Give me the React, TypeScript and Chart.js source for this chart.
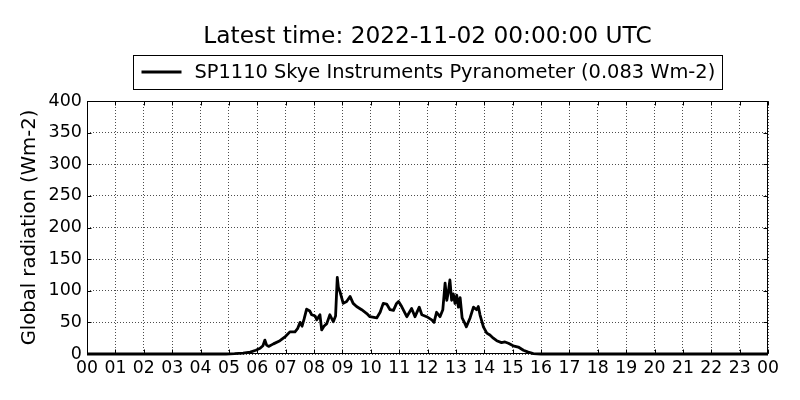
import { useEffect, useRef } from "react";
import { Chart, registerables } from "chart.js";

Chart.register(...registerables);

const titleText = "Latest time: 2022-11-02 00:00:00 UTC";
const seriesLabel = "SP1110 Skye Instruments Pyranometer (0.083 Wm-2)";
const yAxisTitle = "Global radiation (Wm-2)";

const hours = [
  0, 4.9, 5.2, 5.5, 5.75, 5.95, 6.1, 6.2, 6.27, 6.33, 6.4, 6.57, 6.8, 7.0, 7.15,
  7.33, 7.42, 7.51, 7.58, 7.65, 7.74, 7.85, 7.92, 8.04, 8.1, 8.21, 8.27, 8.35,
  8.45, 8.56, 8.68, 8.76, 8.82, 8.86, 8.92, 9.03, 9.15, 9.27, 9.38, 9.5, 9.68,
  9.86, 9.97, 10.21, 10.33, 10.44, 10.56, 10.68, 10.8, 10.91, 10.98, 11.09,
  11.27, 11.44, 11.56, 11.71, 11.8, 11.97, 12.15, 12.23, 12.32, 12.44, 12.54,
  12.62, 12.68, 12.73, 12.79, 12.85, 12.91, 12.97, 13.03, 13.09, 13.15, 13.22,
  13.32, 13.37, 13.5, 13.62, 13.73, 13.79, 13.85, 13.97, 14.09, 14.2, 14.32,
  14.44, 14.61, 14.73, 14.85, 15.02, 15.2, 15.38, 15.55, 15.73, 16, 24,
];

const radiation = [
  0, 0, 0.5, 1.5, 3, 6, 9, 13, 22, 14, 12, 16, 21, 28, 35, 35, 40, 50, 44, 55,
  71, 68, 62, 60, 54, 62, 38, 44, 48, 62, 51, 60, 121, 105, 98, 80, 83, 91, 80,
  75, 70, 64, 59, 57, 66, 80, 79, 70, 69, 80, 83, 75, 59, 72, 59, 74, 62, 59,
  54, 50, 66, 59, 70, 112, 85, 97, 117, 85, 95, 80, 93, 74, 89, 57, 48, 43, 57,
  74, 70, 75, 62, 43, 33, 30, 25, 21, 18, 19, 17, 13, 11, 6, 3, 0.5, 0, 0,
];

const xTickHours = [
  0, 1, 2, 3, 4, 5, 6, 7, 8, 9, 10, 11, 12, 13, 14, 15, 16, 17, 18, 19, 20, 21,
  22, 23, 24,
];
const xTickLabels = [
  "00", "01", "02", "03", "04", "05", "06", "07", "08", "09", "10", "11", "12",
  "13", "14", "15", "16", "17", "18", "19", "20", "21", "22", "23", "00",
];
const yTicks = [0, 50, 100, 150, 200, 250, 300, 350, 400];

const FONT = "'DejaVu Sans', sans-serif";

const decorPlugin = {
  id: "decor",
  beforeDatasetsDraw(chart: any) {
    const { ctx, chartArea: a, scales } = chart;
    ctx.save();
    ctx.strokeStyle = "#000";
    ctx.lineWidth = 1;
    const l = Math.round(a.left) + 0.5;
    const t = Math.round(a.top) + 0.5;
    const r = Math.round(a.right) - 0.5;
    const b = Math.round(a.bottom) - 0.5;
    ctx.strokeRect(l, t, r - l, b - t);
    ctx.beginPath();
    for (const v of xTickHours) {
      const px = Math.round(scales.x.getPixelForValue(v)) + 0.5;
      ctx.moveTo(px, b);
      ctx.lineTo(px, b - 4);
      ctx.moveTo(px, t);
      ctx.lineTo(px, t + 4);
    }
    for (const v of yTicks) {
      const py = Math.round(scales.y.getPixelForValue(v)) + 0.5;
      ctx.moveTo(l, py);
      ctx.lineTo(l + 4, py);
      ctx.moveTo(r, py);
      ctx.lineTo(r - 4, py);
    }
    ctx.stroke();
    ctx.restore();
  },
  afterDraw(chart: any) {
    const { ctx, chartArea: a } = chart;
    const cx = (a.left + a.right) / 2;
    ctx.save();
    ctx.fillStyle = "#000";
    // title
    ctx.font = `23.3px ${FONT}`;
    ctx.textAlign = "center";
    ctx.textBaseline = "alphabetic";
    ctx.fillText(titleText, cx, 43);
    // legend
    ctx.font = `19.4px ${FONT}`;
    const tw = ctx.measureText(seriesLabel).width;
    const boxW = tw + 68;
    const bl = Math.round(cx - boxW / 2) + 0.5;
    const bt = 55.5;
    const bh = 34;
    ctx.strokeStyle = "#000";
    ctx.lineWidth = 1;
    ctx.strokeRect(bl, bt, Math.round(boxW), bh);
    ctx.lineWidth = 2.8;
    ctx.beginPath();
    ctx.moveTo(bl + 8, 72);
    ctx.lineTo(bl + 48, 72);
    ctx.stroke();
    ctx.textAlign = "left";
    ctx.textBaseline = "middle";
    ctx.fillText(seriesLabel, bl + 61, 73);
    ctx.restore();
  },
};

export default function App() {
  const ref = useRef<HTMLCanvasElement | null>(null);

  useEffect(() => {
    document.body.style.margin = "0";
    if (!ref.current) return;
    const data = hours.map((h, i) => ({ x: h, y: radiation[i] }));
    const chart = new Chart(ref.current, {
      type: "line",
      data: {
        datasets: [
          {
            label: seriesLabel,
            data,
            borderColor: "#000",
            backgroundColor: "#000",
            borderWidth: 2.8,
            borderJoinStyle: "round",
            pointRadius: 0,
            tension: 0,
            clip: false as any,
          },
        ],
      },
      options: {
        responsive: false,
        animation: false,
        devicePixelRatio: 1,
        layout: { padding: { top: 101, right: 32, left: 0, bottom: 0 } },
        plugins: {
          legend: { display: false },
          title: { display: false },
          tooltip: { enabled: false },
        },
        scales: {
          x: {
            type: "linear",
            min: 0,
            max: 24,
            afterBuildTicks: (scale: any) => {
              scale.ticks = xTickHours.map((v) => ({ value: v }));
            },
            afterFit: (scale: any) => {
              scale.height = 46;
            },
            ticks: {
              autoSkip: false,
              maxRotation: 0,
              minRotation: 0,
              padding: 4,
              color: "#000",
              font: { family: FONT, size: 17.3 },
              callback: (v: any) => xTickLabels[xTickHours.indexOf(Number(v))] ?? "",
            },
            grid: {
              color: "#000",
              lineWidth: 0.7,
              drawTicks: false,
            },
            border: { display: false, dash: [1, 2] },
          },
          y: {
            type: "linear",
            min: 0,
            max: 400,
            afterBuildTicks: (scale: any) => {
              scale.ticks = yTicks.map((v) => ({ value: v }));
            },
            afterFit: (scale: any) => {
              scale.width = 87;
            },
            ticks: {
              padding: 5,
              color: "#000",
              font: { family: FONT, size: 17.5 },
            },
            grid: {
              color: "#000",
              lineWidth: 0.7,
              drawTicks: false,
            },
            border: { display: false, dash: [1, 2] },
            title: {
              display: true,
              text: yAxisTitle,
              color: "#000",
              font: { family: FONT, size: 19.6 },
              padding: { top: 18, bottom: 0 },
            },
          },
        },
      },
      plugins: [decorPlugin],
    });
    return () => chart.destroy();
  }, []);

  return (
    <div style={{ width: 800, height: 400, background: "#fff" }}>
      <canvas ref={ref} width={800} height={400} style={{ display: "block" }} />
    </div>
  );
}
